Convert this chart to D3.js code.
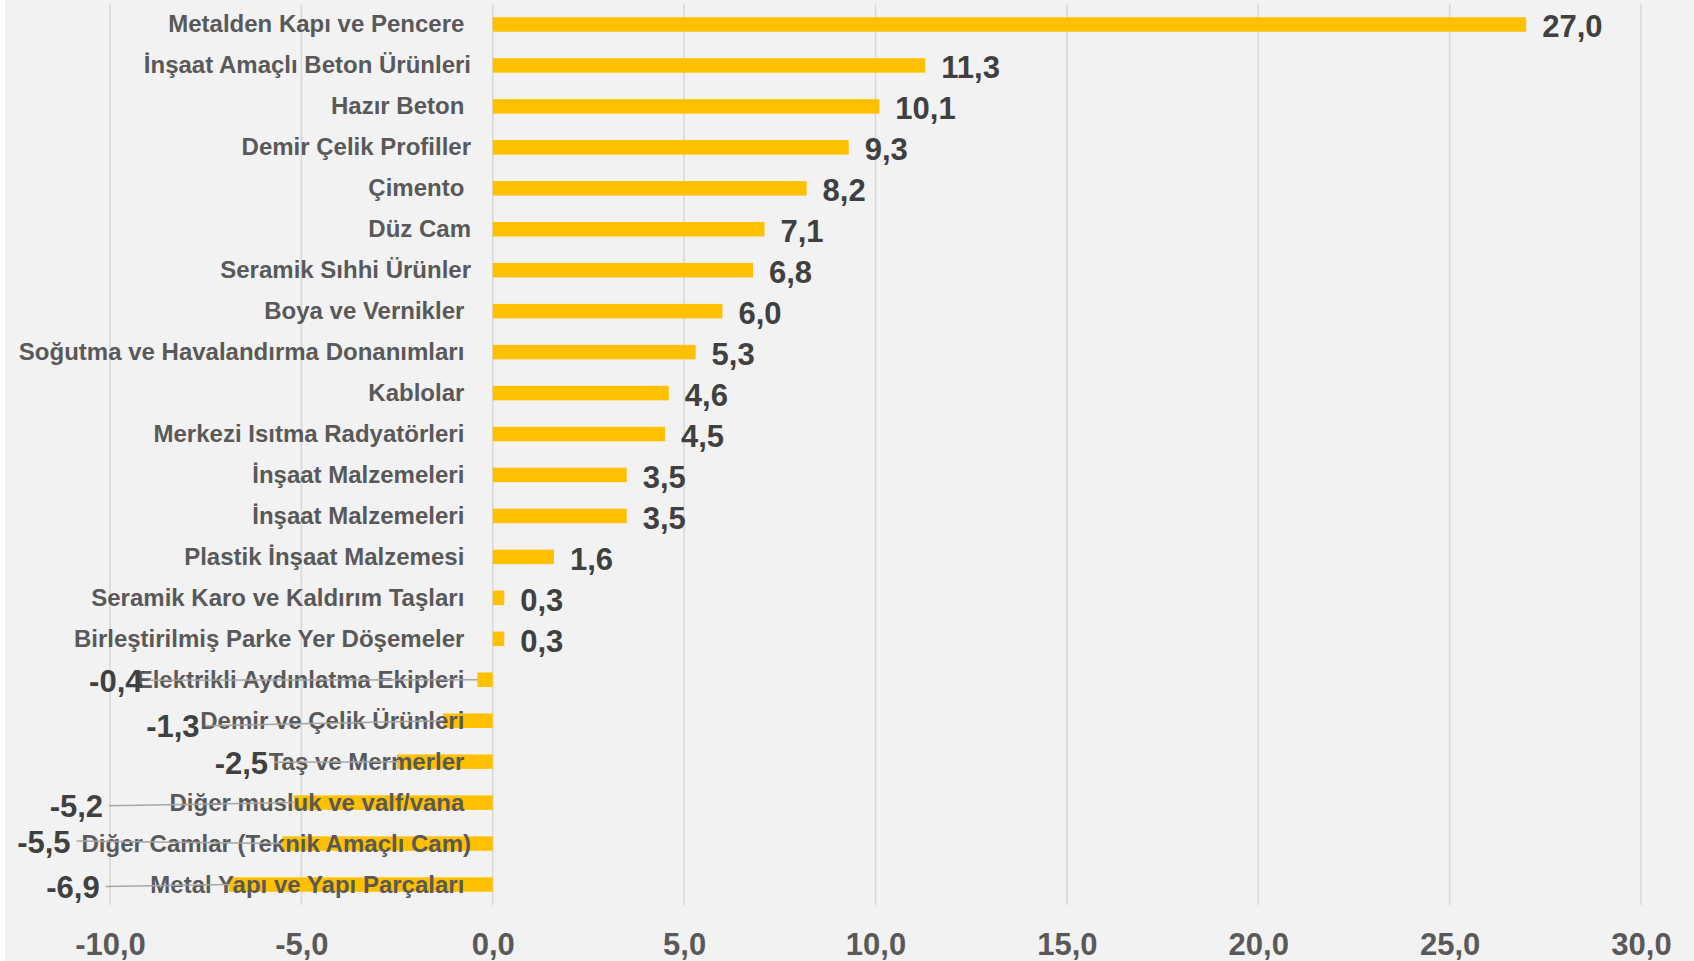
<!DOCTYPE html>
<html>
<head>
<meta charset="utf-8">
<script src="https://cdn.jsdelivr.net/npm/d3@7"></script>
<style>
  html, body { margin: 0; padding: 0; background: #f2f2f2; }
  svg { display: block; }
  text { font-family: "Liberation Sans", Arial, sans-serif; font-weight: bold; white-space: pre; }
</style>
</head>
<body>
<svg id="chart" width="1694" height="961"></svg>
<script>
// ---- data ----
const categories = [
  "Metalden Kapı ve Pencere ",
  "İnşaat Amaçlı Beton Ürünleri",
  "Hazır Beton ",
  "Demir Çelik Profiller",
  "Çimento ",
  "Düz Cam",
  "Seramik Sıhhi Ürünler",
  "Boya ve Vernikler ",
  "Soğutma ve Havalandırma Donanımları ",
  "Kablolar ",
  "Merkezi Isıtma Radyatörleri ",
  "İnşaat Malzemeleri ",
  "İnşaat Malzemeleri ",
  "Plastik İnşaat Malzemesi ",
  "Seramik Karo ve Kaldırım Taşları ",
  "Birleştirilmiş Parke Yer Döşemeler ",
  "Elektrikli Aydınlatma Ekipleri ",
  "Demir ve Çelik Ürünleri ",
  "Taş ve Mermerler ",
  "Diğer musluk ve valf/vana ",
  "Diğer Camlar (Teknik Amaçlı Cam)",
  "Metal Yapı ve Yapı Parçaları "
];
const values = [27.0, 11.3, 10.1, 9.3, 8.2, 7.1, 6.8, 6.0, 5.3, 4.6, 4.5, 3.5, 3.5, 1.6, 0.3, 0.3, -0.4, -1.3, -2.5, -5.2, -5.5, -6.9];
const xTicks = [-10, -5, 0, 5, 10, 15, 20, 25, 30];
// manual label anchors (value units, right edge) for the negative data labels, as placed in the original
const negLabelAnchor = [-9.15, -7.66, -5.87, -10.18, -11.03, -10.27];
const negLabelDy = [12, 16.5, 12, 14.7, 9, 13.5];

// ---- layout ----
const svg = d3.select("#chart");
const W = 1694, H = 961;
const plotTop = 4, plotBottom = 905;
const x = d3.scaleLinear().domain([-10, 30]).range([110, 1641]);
const y = d3.scaleBand().domain(d3.range(categories.length)).range([plotTop, plotBottom])
  .paddingInner(0.646).paddingOuter(0.323);

const loc = d3.formatLocale({decimal: ",", thousands: ".", grouping: [3], currency: ["", ""], minus: "-"});
const fmt = loc.format(".1f");

// white strip at the left edge
svg.append("rect").attr("x", 0).attr("y", 0).attr("width", 5).attr("height", H).attr("fill", "#ffffff");

// gridlines
svg.append("g").selectAll("line").data(xTicks).join("line")
  .attr("x1", d => x(d)).attr("x2", d => x(d))
  .attr("y1", plotTop).attr("y2", plotBottom)
  .attr("stroke", "#d9d9d9").attr("stroke-width", 1.6);

// x tick labels via axis
const xAxis = d3.axisBottom(x).tickValues(xTicks).tickFormat(fmt).tickSize(0).tickPadding(0);
const gx = svg.append("g").attr("transform", `translate(0,${plotBottom})`).call(xAxis);
gx.select(".domain").remove();
gx.selectAll("text")
  .attr("dy", null).attr("y", 50)
  .attr("fill", "#595959")
  .style("font-size", "31px")
  .style("font-family", '"Liberation Sans", Arial, sans-serif')
  .style("font-weight", "bold");

// bars
const cy = i => y(i) + y.bandwidth() / 2;
svg.append("g").selectAll("rect").data(values).join("rect")
  .attr("x", d => x(Math.min(0, d)))
  .attr("width", d => Math.abs(x(d) - x(0)))
  .attr("y", (d, i) => y(i))
  .attr("height", y.bandwidth())
  .attr("fill", "#ffc000");

// category labels (drawn over the bars)
svg.append("g").selectAll("text").data(categories).join("text")
  .attr("x", 471)
  .attr("y", (d, i) => cy(i) + 8)
  .attr("text-anchor", "end")
  .attr("fill", "#595959")
  .style("font-size", "24px")
  .text(d => d);

// leader lines for negative labels
const negIdx = values.map((v, i) => i).filter(i => values[i] < 0);
svg.append("g").selectAll("line").data(negIdx).join("line")
  .attr("x1", (i, k) => x(negLabelAnchor[k]) + 6)
  .attr("y1", (i, k) => cy(i) + negLabelDy[k] - 11.5)
  .attr("x2", i => x(values[i]))
  .attr("y2", i => cy(i))
  .attr("stroke", "#a6a6a6").attr("stroke-width", 1.5);

// value labels: positives
const posIdx = values.map((v, i) => i).filter(i => values[i] >= 0);
svg.append("g").selectAll("text").data(posIdx).join("text")
  .attr("x", i => x(values[i]) + 16)
  .attr("y", i => cy(i) + 13)
  .attr("fill", "#404040")
  .style("font-size", "31px")
  .text(i => fmt(values[i]));

// value labels: negatives
svg.append("g").selectAll("text").data(negIdx).join("text")
  .attr("x", (i, k) => x(negLabelAnchor[k]))
  .attr("y", (i, k) => cy(i) + negLabelDy[k])
  .attr("text-anchor", "end")
  .attr("fill", "#404040")
  .style("font-size", "31px")
  .text(i => fmt(values[i]));
</script>
</body>
</html>
